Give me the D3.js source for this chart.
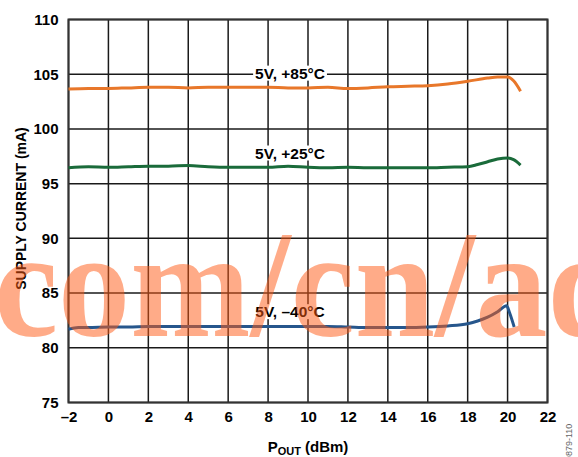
<!DOCTYPE html>
<html><head><meta charset="utf-8">
<script src="https://cdn.jsdelivr.net/npm/d3@7"></script>
<style>body{margin:0;background:#fff}svg{display:block}text{font-family:"Liberation Sans",Arial,sans-serif;font-weight:bold}</style>
</head><body>
<svg id="c" width="578" height="457"></svg>
<script>
const xTicks = [-2,0,2,4,6,8,10,12,14,16,18,20,22];
const yTicks = [75,80,85,90,95,100,105,110];
const xLabel = "P";
const yLabel = "SUPPLY CURRENT (mA)";
const seriesNames = ["5V, +85°C","5V, +25°C","5V, –40°C"];

const x85 = [-2,-1,0,1,2,3,4,5,6,7,8,9,10,11,12,13,14,15,16,17,18,19,19.5,20,20.3,20.65];
const y85 = [103.65,103.7,103.7,103.75,103.8,103.8,103.75,103.8,103.8,103.8,103.8,103.75,103.75,103.8,103.7,103.75,103.85,103.9,103.95,104.1,104.35,104.65,104.75,104.75,104.4,103.45];
const x25 = [-2,-1,0,1,2,3,4,5,6,7,8,9,10,11,12,13,14,15,16,17,18,18.5,19,19.5,20,20.3,20.65];
const y25 = [96.45,96.55,96.5,96.55,96.6,96.6,96.65,96.55,96.5,96.5,96.5,96.6,96.5,96.45,96.5,96.45,96.45,96.45,96.45,96.5,96.55,96.75,97.0,97.25,97.35,97.2,96.7];
const xm40 = [-2,-1.5,-1,0,1,2,3,4,5,6,7,8,9,10,11,12,13,14,15,16,17,18,18.5,19,19.5,19.95,20.1,20.33];
const ym40 = [81.7,81.85,81.85,81.9,81.9,81.95,81.95,81.95,81.95,81.95,81.95,81.95,81.95,81.95,81.95,81.9,81.85,81.85,81.85,81.9,82.0,82.2,82.45,82.8,83.3,83.85,83.2,81.9];

const svg = d3.select("#c");
const L=68.5, R=547.5, T=19.5, B=402.5;
const x = d3.scaleLinear().domain([-2,22]).range([L,R]);
const y = d3.scaleLinear().domain([75,110]).range([B,T]);

const g = svg.append("g");
g.selectAll(".vg").data(xTicks).join("line")
 .attr("x1",d=>x(d)).attr("x2",d=>x(d)).attr("y1",T).attr("y2",B)
 .attr("stroke","#1a1a1a").attr("stroke-width",1.5);
g.selectAll(".hg").data(yTicks).join("line")
 .attr("y1",d=>y(d)).attr("y2",d=>y(d)).attr("x1",L).attr("x2",R)
 .attr("stroke","#1a1a1a").attr("stroke-width",1.5);
g.append("rect").attr("x",L).attr("y",T).attr("width",R-L).attr("height",B-T)
 .attr("fill","none").attr("stroke","#333").attr("stroke-width",2);

const xAxis = d3.axisBottom(x).tickValues(xTicks).tickSize(0).tickPadding(9)
  .tickFormat(d=> d<0 ? "–"+Math.abs(d) : d);
const ax = svg.append("g").attr("transform",`translate(0,${B})`).call(xAxis);
ax.select(".domain").remove();
ax.selectAll("text").style("font-size","15px").style("font-family","Liberation Sans, Arial").style("font-weight","bold").attr("fill","#000");
const yAxis = d3.axisLeft(y).tickValues(yTicks).tickSize(0).tickPadding(10);
const ay = svg.append("g").attr("transform",`translate(${L},0)`).call(yAxis);
ay.select(".domain").remove();
ay.selectAll("text").style("font-size","15px").style("font-family","Liberation Sans, Arial").style("font-weight","bold").attr("fill","#000");

const line = d3.line().x(d=>x(d[0])).y(d=>y(d[1])).curve(d3.curveMonotoneX);
const series = [
  {xs:x85, ys:y85, color:"#e8772a", name:seriesNames[0], lx:9.1, ly:105.1},
  {xs:x25, ys:y25, color:"#1a6b3a", name:seriesNames[1], lx:9.1, ly:97.8},
  {xs:xm40, ys:ym40, color:"#26568c", name:seriesNames[2], lx:9.1, ly:83.3}
];
series.forEach(s=>{
  svg.append("path").datum(d3.zip(s.xs,s.ys)).attr("d",line)
    .attr("fill","none").attr("stroke",s.color).attr("stroke-width",3);
});
series.forEach(s=>{
  const t = svg.append("text").attr("x",x(s.lx)).attr("y",y(s.ly)).attr("text-anchor","middle")
    .attr("dominant-baseline","central").style("font-size","15.5px").text(s.name);
  const bb = t.node().getBBox();
  svg.insert("rect", function(){return t.node();}).attr("x",bb.x-2).attr("y",bb.y+1).attr("width",bb.width+4).attr("height",bb.height-2).attr("fill","#fff");
});

const xt = svg.append("text").attr("x",308).attr("y",452).attr("text-anchor","middle").style("font-size","15px");
xt.append("tspan").text(xLabel);
xt.append("tspan").style("font-size","11px").attr("dy",3).text("OUT");
xt.append("tspan").attr("dy",-3).text(" (dBm)");
svg.append("text").attr("transform",`translate(26,208.5) rotate(-90)`).attr("text-anchor","middle")
  .style("font-size","14px").text(yLabel);

svg.append("text").attr("transform","translate(572,466) rotate(-90)").style("font-size","9px").style("font-weight","normal").attr("fill","#666").text("09879-110");

svg.append("text").attr("transform","translate(-6,336) scale(0.95,1)")
  .style("font-family","'Liberation Serif','Times New Roman',serif")
  .style("font-weight","bold").style("font-size","152px").attr("fill","#ff5a14").attr("opacity",0.5).text("com/cn/adi");
</script>
</body></html>
